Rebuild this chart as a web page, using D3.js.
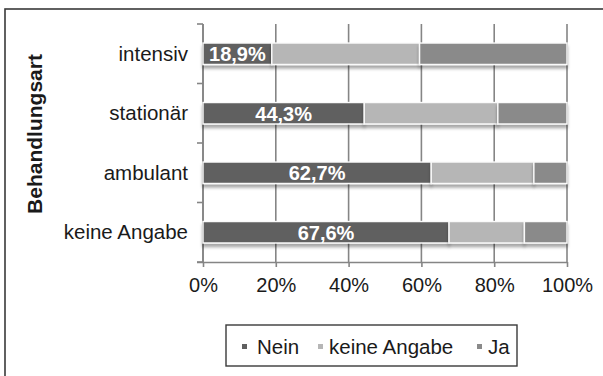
<!DOCTYPE html>
<html>
<head>
<meta charset="utf-8">
<script src="https://cdn.jsdelivr.net/npm/d3@7/dist/d3.min.js"></script>
<style>
  html, body { margin: 0; padding: 0; background: #fff; }
  svg { display: block; font-family: "Liberation Sans", Arial, sans-serif; }
</style>
</head>
<body>
<svg id="chart" width="603" height="376"></svg>
<script>
// Behandlungsart – stacked 100% bars
const categories = ["intensiv", "stationär", "ambulant", "keine Angabe"];
const seriesNames = ["Nein", "keine Angabe", "Ja"];
const neinValues = [18.9, 44.3, 62.7, 67.6];
const keineAngabeValues = [40.6, 36.7, 28.2, 20.7];
const jaValues = [40.5, 19.0, 9.1, 11.7];
const tickValues = [0, 20, 40, 60, 80, 100];
const seriesColors = ["#606060", "#b6b6b6", "#8a8a8a"];

const rows = categories.map((c, i) => ({
  cat: c,
  "Nein": neinValues[i],
  "keine Angabe": keineAngabeValues[i],
  "Ja": jaValues[i]
}));
const stacked = d3.stack().keys(seriesNames)(rows);

const svg = d3.select("#chart");

// shadow under the bars
const defs = svg.append("defs");
const f = defs.append("filter").attr("id", "shadow")
  .attr("x", "-5%").attr("y", "-20%").attr("width", "110%").attr("height", "160%");
f.append("feDropShadow").attr("dx", 0).attr("dy", 3.5).attr("stdDeviation", 1.6)
  .attr("flood-color", "#000").attr("flood-opacity", 0.35);

// frame
svg.append("rect").attr("x", 5).attr("y", 9).attr("width", 700).attr("height", 500)
  .attr("fill", "none").attr("stroke", "#3a3a3a").attr("stroke-width", 1.6);

const x = d3.scaleLinear().domain([0, 100]).range([203, 567]);
const y = d3.scaleBand().domain(categories).range([24, 262])
  .paddingInner(0.64).paddingOuter(0.32);

const gridColor = "#858585";

// vertical gridlines
svg.append("g").selectAll("line").data(tickValues).join("line")
  .attr("x1", d => x(d)).attr("x2", d => x(d))
  .attr("y1", 24).attr("y2", 262)
  .attr("stroke", gridColor).attr("stroke-width", 1.6);

// x axis
const xAxis = svg.append("g").attr("transform", "translate(0,262)")
  .call(d3.axisBottom(x).tickValues(tickValues).tickFormat(d => d + "%")
    .tickSize(5).tickSizeOuter(0).tickPadding(11));
xAxis.select(".domain").attr("stroke", gridColor).attr("stroke-width", 1.6)
  .attr("d", `M197,0.5H${x(100)}`);
xAxis.selectAll(".tick line").attr("stroke", gridColor).attr("stroke-width", 1.6);
xAxis.selectAll(".tick text").attr("fill", "#1a1a1a")
  .style("font-size", "20px").style("font-family", "'Liberation Sans', Arial, sans-serif");

// y axis line and category separators
const yAx = svg.append("g");
yAx.append("line").attr("x1", x(0)).attr("x2", x(0)).attr("y1", 24).attr("y2", 262)
  .attr("stroke", gridColor).attr("stroke-width", 1.6);
const bounds = d3.range(categories.length + 1).map(i => 24 + i * y.step());
yAx.selectAll("line.sep").data(bounds).join("line").attr("class", "sep")
  .attr("x1", x(0) - 6).attr("x2", x(0)).attr("y1", d => d).attr("y2", d => d)
  .attr("stroke", gridColor).attr("stroke-width", 1.6);

// category labels
svg.append("g").selectAll("text").data(categories).join("text")
  .attr("x", 188).attr("y", d => y(d) + y.bandwidth() / 2 + 7)
  .attr("text-anchor", "end").attr("fill", "#1a1a1a")
  .style("font-size", "20.5px").text(d => d);

// axis title
svg.append("text")
  .attr("transform", "translate(42,134) rotate(-90)")
  .attr("text-anchor", "middle").attr("fill", "#1a1a1a")
  .style("font-size", "21px").style("font-weight", "bold")
  .text("Behandlungsart");

// bars
const barG = svg.append("g");
stacked.forEach((layer, si) => {
  barG.append("g").attr("filter", "url(#shadow)")
    .selectAll("rect").data(layer).join("rect")
    .attr("x", d => x(d[0])).attr("width", d => x(d[1]) - x(d[0]))
    .attr("y", d => y(d.data.cat)).attr("height", y.bandwidth())
    .attr("fill", seriesColors[si])
    .attr("stroke", "#fafafa").attr("stroke-width", 1.4);
});

// value labels on the "Nein" segments
const fmt = v => d3.format(".1f")(v).replace(".", ",") + "%";
svg.append("g").selectAll("text").data(stacked[0]).join("text")
  .attr("x", d => (x(d[0]) + x(d[1])) / 2)
  .attr("y", d => y(d.data.cat) + y.bandwidth() / 2 + 7.5)
  .attr("text-anchor", "middle").attr("fill", "#ffffff")
  .style("font-size", "20px").style("font-weight", "bold")
  .text(d => fmt(d[1] - d[0]));

// legend
const lg = svg.append("g");
lg.append("rect").attr("x", 226).attr("y", 325).attr("width", 291).attr("height", 41)
  .attr("fill", "#fff").attr("stroke", "#3a3a3a").attr("stroke-width", 1.4);
const legendItems = [
  { name: "Nein", sx: 242, tx: 257 },
  { name: "keine Angabe", sx: 318, tx: 329 },
  { name: "Ja", sx: 477, tx: 488 }
];
legendItems.forEach((it, i) => {
  lg.append("rect").attr("x", it.sx).attr("y", 344).attr("width", 5).attr("height", 5)
    .attr("fill", seriesColors[i]);
  lg.append("text").attr("x", it.tx).attr("y", 353.5).attr("fill", "#1a1a1a")
    .style("font-size", "20.5px").text(it.name);
});
</script>
</body>
</html>
